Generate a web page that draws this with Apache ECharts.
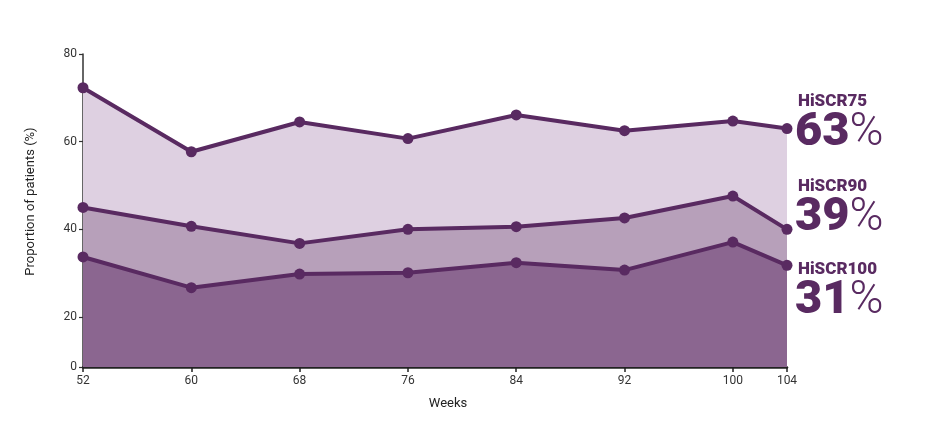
<!DOCTYPE html>
<html><head><meta charset="utf-8">
<script src="https://cdn.jsdelivr.net/npm/echarts@6/dist/echarts.min.js"></script>
<style>html,body{margin:0;padding:0;background:#fff}#c{width:927px;height:440px}</style>
</head><body><div id="c"></div>
<script>
const weeks = [52, 60, 68, 76, 84, 92, 100, 104];
const hiscr75 = [72.3, 57.7, 64.5, 60.7, 66.1, 62.5, 64.7, 63.0];
const hiscr90 = [45.0, 40.7, 36.8, 40.0, 40.6, 42.6, 47.6, 40.0];
const hiscr100 = [33.7, 26.7, 29.8, 30.1, 32.4, 30.7, 37.1, 31.8];
const yTicks = [8.6, 20, 40, 60, 80];
const yTickLabels = ['0', '20', '40', '60', '80'];
const endLabels = [
  {name: 'HiSCR75', value: '63'},
  {name: 'HiSCR90', value: '39'},
  {name: 'HiSCR100', value: '31'}
];

const lineColor = '#592a61';
const fills = ['#ded0e1', '#b7a0ba', '#8b6690'];
const seriesData = [hiscr75, hiscr90, hiscr100];

const chart = echarts.init(document.getElementById('c'));
const font = 'Roboto';
const series = seriesData.map((arr, i) => ({
  type: 'line',
  name: endLabels[i].name,
  data: weeks.map((w, j) => [w, arr[j]]),
  symbol: 'circle',
  symbolSize: 11,
  lineStyle: {color: lineColor, width: 4},
  itemStyle: {color: lineColor},
  areaStyle: {color: fills[i], opacity: 1, origin: 'start'},
  z: 2 + i,
  animation: false
}));

const labelTops = [93, 178, 261];
const graphics = [];
endLabels.forEach((l, i) => {
  graphics.push({
    type: 'text', left: 798, top: labelTops[i],
    style: {text: l.name, font: `900 17px ${font}`, fill: lineColor}
  });
  graphics.push({
    type: 'text', left: 795, top: labelTops[i] + 17,
    style: {
      text: `{a|${l.value}}{b|%}`,
      rich: {
        a: {fontFamily: font, fontWeight: 900, fontSize: 47, fill: lineColor, lineHeight: 44},
        b: {fontFamily: font, fontWeight: 300, fontSize: 46, fill: lineColor, lineHeight: 44}
      }
    }
  });
});

chart.setOption({
  animation: false,
  grid: {left: 83, right: 140, top: 54, bottom: 73},
  xAxis: {
    type: 'value', min: 52, max: 104,
    name: 'Weeks', nameLocation: 'middle', nameGap: 30,
    nameTextStyle: {fontFamily: font, fontSize: 13, color: '#222', padding: [0, 0, 0, 26]},
    splitLine: {show: false},
    axisLine: {lineStyle: {color: '#222', width: 2.5}},
    axisTick: {customValues: weeks, length: 5, lineStyle: {color: '#222', width: 1.5}},
    axisLabel: {customValues: weeks, fontFamily: font, fontSize: 12, color: '#333', margin: 8}
  },
  yAxis: {
    type: 'value', min: 8.6, max: 80,
    name: 'Proportion of patients (%)', nameLocation: 'middle', nameGap: 46,
    nameTextStyle: {fontFamily: font, fontSize: 13, color: '#222', padding: [0, 0, 0, 18]},
    splitLine: {show: false},
    axisLine: {show: true, lineStyle: {color: '#333', width: 1.5}},
    axisTick: {show: true, customValues: yTicks, length: 4, lineStyle: {color: '#333', width: 1.2}},
    axisLabel: {
      customValues: yTicks, fontFamily: font, fontSize: 12, color: '#333', margin: 6,
      formatter: v => yTickLabels[yTicks.indexOf(v)] ?? ''
    }
  },
  series: series,
  graphic: graphics
});
</script>
</body></html>
